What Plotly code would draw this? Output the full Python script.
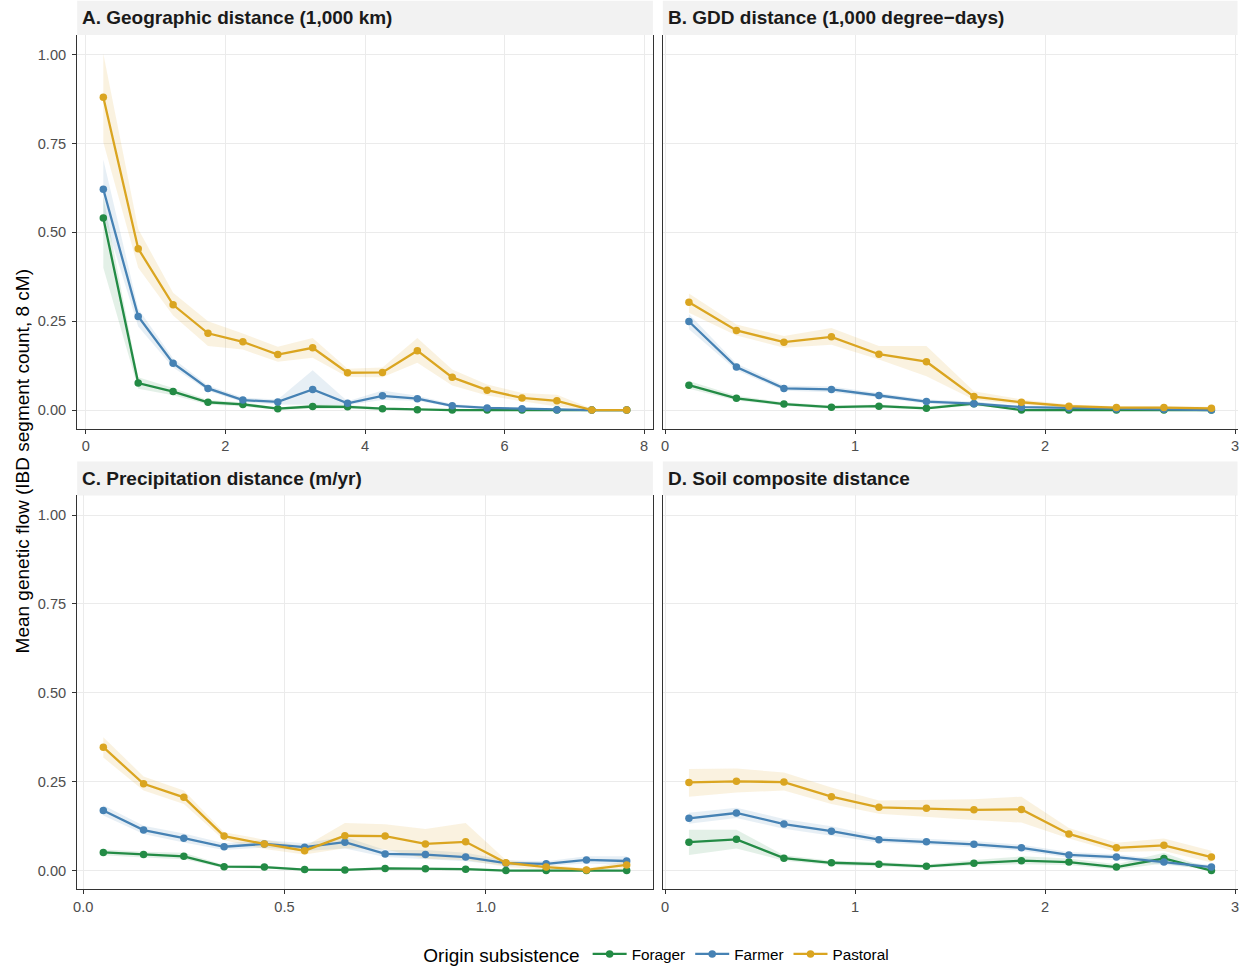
import plotly.graph_objects as go

# ---------------- data ----------------
series_names = ["Forager", "Farmer", "Pastoral"]
series_colors = ["#238B45", "#4682B4", "#DAA520"]
ribbon_colors = ["rgba(35,139,69,0.13)", "rgba(70,130,180,0.13)", "rgba(218,165,32,0.14)"]

panel_titles = ["A. Geographic distance (1,000 km)", "B. GDD distance (1,000 degree\u2212days)",
                "C. Precipitation distance (m/yr)", "D. Soil composite distance"]

y_tickvals = [0, 0.25, 0.5, 0.75, 1.0]
y_ticktext = ["0.00", "0.25", "0.50", "0.75", "1.00"]
y_title = "Mean genetic flow (IBD segment count, 8 cM)"
legend_title = "Origin subsistence"

# Panel A
A_x = [0.25, 0.75, 1.25, 1.75, 2.25, 2.75, 3.25, 3.75, 4.25, 4.75, 5.25, 5.75, 6.25, 6.75, 7.25, 7.75]
A_forager = [0.540, 0.076, 0.052, 0.022, 0.016, 0.004, 0.010, 0.009, 0.004, 0.001, 0, 0, 0, 0, 0, 0]
A_forager_lo = [0.40, 0.060, 0.042, 0.016, 0.010, 0.001, 0.004, 0.004, 0.001, 0, 0, 0, 0, 0, 0, 0]
A_forager_hi = [0.60, 0.092, 0.062, 0.028, 0.022, 0.007, 0.016, 0.014, 0.007, 0.002, 0.001, 0, 0, 0, 0, 0]
A_farmer = [0.621, 0.263, 0.132, 0.061, 0.028, 0.023, 0.058, 0.019, 0.040, 0.032, 0.012, 0.006, 0.004, 0.001, 0.0, 0.0]
A_farmer_lo = [0.55, 0.235, 0.120, 0.054, 0.022, 0.016, 0.015, 0.014, 0.028, 0.026, 0.008, 0.003, 0.002, 0, 0, 0]
A_farmer_hi = [0.705, 0.285, 0.145, 0.069, 0.035, 0.030, 0.112, 0.025, 0.055, 0.040, 0.017, 0.010, 0.007, 0.003, 0.001, 0.001]
A_pastoral = [0.880, 0.454, 0.296, 0.216, 0.192, 0.156, 0.175, 0.105, 0.106, 0.167, 0.092, 0.056, 0.034, 0.026, 0.0, 0.0]
A_pastoral_lo = [0.753, 0.400, 0.266, 0.180, 0.170, 0.136, 0.147, 0.093, 0.092, 0.133, 0.069, 0.041, 0.025, 0.010, 0.0, 0.0]
A_pastoral_hi = [1.002, 0.509, 0.330, 0.250, 0.215, 0.178, 0.203, 0.116, 0.120, 0.203, 0.114, 0.072, 0.048, 0.043, 0.004, 0.001]

# Panel B
B_x = [0.125, 0.375, 0.625, 0.875, 1.125, 1.375, 1.625, 1.875, 2.125, 2.375, 2.625, 2.875]
B_forager = [0.070, 0.033, 0.017, 0.008, 0.011, 0.005, 0.018, 0.0, 0.0, 0.0, 0.0, 0.0]
B_forager_lo = [0.060, 0.027, 0.012, 0.004, 0.006, 0.002, 0.012, 0, 0, 0, 0, 0]
B_forager_hi = [0.082, 0.040, 0.022, 0.013, 0.016, 0.009, 0.025, 0.002, 0.002, 0.002, 0.002, 0.001]
B_farmer = [0.249, 0.121, 0.061, 0.058, 0.041, 0.024, 0.018, 0.008, 0.006, 0.003, 0.002, 0.0]
B_farmer_lo = [0.227, 0.112, 0.054, 0.050, 0.035, 0.018, 0.013, 0.005, 0.003, 0.001, 0.0, 0.0]
B_farmer_hi = [0.270, 0.131, 0.069, 0.066, 0.048, 0.030, 0.024, 0.012, 0.009, 0.005, 0.004, 0.002]
B_pastoral = [0.303, 0.224, 0.191, 0.206, 0.157, 0.136, 0.038, 0.022, 0.011, 0.007, 0.007, 0.005]
B_pastoral_lo = [0.274, 0.210, 0.175, 0.184, 0.142, 0.095, 0.029, 0.015, 0.007, 0.004, 0.004, 0.002]
B_pastoral_hi = [0.328, 0.241, 0.208, 0.231, 0.180, 0.180, 0.053, 0.030, 0.016, 0.011, 0.011, 0.009]

# Panel C
C_x = [0.05, 0.15, 0.25, 0.35, 0.45, 0.55, 0.65, 0.75, 0.85, 0.95, 1.05, 1.15, 1.25, 1.35]
C_forager = [0.051, 0.045, 0.040, 0.011, 0.010, 0.003, 0.002, 0.006, 0.005, 0.004, 0.0, 0.0, 0.0, 0.0]
C_forager_lo = [0.043, 0.037, 0.032, 0.007, 0.006, 0.001, 0.0, 0.003, 0.002, 0.002, 0, 0, 0, 0]
C_forager_hi = [0.059, 0.053, 0.050, 0.016, 0.014, 0.006, 0.005, 0.010, 0.008, 0.007, 0.002, 0.001, 0.001, 0.001]
C_farmer = [0.169, 0.114, 0.091, 0.067, 0.075, 0.066, 0.080, 0.047, 0.045, 0.038, 0.021, 0.019, 0.030, 0.027]
C_farmer_lo = [0.155, 0.103, 0.079, 0.058, 0.065, 0.055, 0.062, 0.038, 0.033, 0.026, 0.014, 0.013, 0.020, 0.016]
C_farmer_hi = [0.184, 0.126, 0.104, 0.077, 0.086, 0.077, 0.095, 0.058, 0.058, 0.050, 0.029, 0.026, 0.040, 0.040]
C_pastoral = [0.347, 0.244, 0.206, 0.097, 0.075, 0.056, 0.098, 0.097, 0.075, 0.081, 0.022, 0.010, 0.002, 0.016]
C_pastoral_lo = [0.318, 0.225, 0.187, 0.085, 0.061, 0.045, 0.063, 0.060, 0.033, 0.030, 0.010, 0.003, 0.0, 0.005]
C_pastoral_hi = [0.375, 0.265, 0.225, 0.108, 0.087, 0.068, 0.134, 0.130, 0.117, 0.134, 0.030, 0.018, 0.006, 0.027]

# Panel D
D_x = [0.125, 0.375, 0.625, 0.875, 1.125, 1.375, 1.625, 1.875, 2.125, 2.375, 2.625, 2.875]
D_forager = [0.080, 0.088, 0.035, 0.022, 0.018, 0.012, 0.021, 0.028, 0.024, 0.010, 0.034, 0.0]
D_forager_lo = [0.044, 0.062, 0.028, 0.016, 0.012, 0.007, 0.014, 0.018, 0.016, 0.003, 0.020, 0.0]
D_forager_hi = [0.115, 0.115, 0.043, 0.028, 0.024, 0.017, 0.030, 0.040, 0.034, 0.018, 0.050, 0.004]
D_farmer = [0.147, 0.162, 0.131, 0.111, 0.087, 0.081, 0.074, 0.064, 0.044, 0.038, 0.024, 0.010]
D_farmer_lo = [0.132, 0.148, 0.118, 0.098, 0.079, 0.073, 0.066, 0.056, 0.036, 0.030, 0.016, 0.005]
D_farmer_hi = [0.163, 0.177, 0.145, 0.125, 0.096, 0.090, 0.083, 0.073, 0.052, 0.046, 0.032, 0.016]
D_pastoral = [0.248, 0.251, 0.249, 0.208, 0.178, 0.175, 0.171, 0.172, 0.103, 0.064, 0.071, 0.038]
D_pastoral_lo = [0.208, 0.220, 0.225, 0.187, 0.160, 0.150, 0.142, 0.135, 0.090, 0.052, 0.055, 0.023]
D_pastoral_hi = [0.286, 0.287, 0.276, 0.234, 0.197, 0.200, 0.201, 0.208, 0.120, 0.078, 0.090, 0.056]

panels = [
    (A_x, [(A_forager, A_forager_lo, A_forager_hi), (A_farmer, A_farmer_lo, A_farmer_hi), (A_pastoral, A_pastoral_lo, A_pastoral_hi)]),
    (B_x, [(B_forager, B_forager_lo, B_forager_hi), (B_farmer, B_farmer_lo, B_farmer_hi), (B_pastoral, B_pastoral_lo, B_pastoral_hi)]),
    (C_x, [(C_forager, C_forager_lo, C_forager_hi), (C_farmer, C_farmer_lo, C_farmer_hi), (C_pastoral, C_pastoral_lo, C_pastoral_hi)]),
    (D_x, [(D_forager, D_forager_lo, D_forager_hi), (D_farmer, D_farmer_lo, D_farmer_hi), (D_pastoral, D_pastoral_lo, D_pastoral_hi)]),
]

# ---------------- layout geometry (pixels) ----------------
W, H = 1248, 973
FONT = "Liberation Sans, Arial, sans-serif"
px_x = lambda p: p / W
px_y = lambda p: 1 - p / H

left_dom = [px_x(73.5), px_x(652)]
right_dom = [px_x(662), px_x(1239.5)]
top_dom = [px_y(429), px_y(35)]
bot_dom = [px_y(890), px_y(496)]
x_doms = [left_dom, right_dom, left_dom, right_dom]
y_doms = [top_dom, top_dom, bot_dom, bot_dom]
x_ranges = [[-0.125, 8.125], [-0.0125, 3.0125], [-0.015, 1.415], [-0.0125, 3.0125]]
x_tickvals = [[0, 2, 4, 6, 8], [0, 1, 2, 3], [0, 0.5, 1.0], [0, 1, 2, 3]]
x_ticktext = [["0", "2", "4", "6", "8"], ["0", "1", "2", "3"], ["0.0", "0.5", "1.0"], ["0", "1", "2", "3"]]
strip_y = [(0.7, 35), (0.7, 35), (462, 496), (462, 496)]
strip_x = [(73.5, 652), (662, 1239.5), (73.5, 652), (662, 1239.5)]

fig = go.Figure()

for pi, (xs, ser) in enumerate(panels):
    sfx = "" if pi == 0 else str(pi + 1)
    xa, ya = "x" + sfx, "y" + sfx
    # ribbons
    for si, (m, lo, hi) in enumerate(ser):
        fig.add_trace(go.Scatter(
            x=list(xs) + list(xs)[::-1], y=list(hi) + list(lo)[::-1],
            fill="toself", fillcolor=ribbon_colors[si], line=dict(width=0),
            mode="lines", hoverinfo="skip", showlegend=False, xaxis=xa, yaxis=ya))
    # lines + points
    for si, (m, lo, hi) in enumerate(ser):
        fig.add_trace(go.Scatter(
            x=xs, y=m, mode="lines+markers", name=series_names[si],
            legendgroup=series_names[si], showlegend=(pi == 0),
            line=dict(color=series_colors[si], width=2.3),
            marker=dict(color=series_colors[si], size=7.5),
            xaxis=xa, yaxis=ya))

layout = dict(
    width=W, height=H, margin=dict(l=0, r=0, t=0, b=0),
    paper_bgcolor="white", plot_bgcolor="white",
    font=dict(family=FONT, color="#000000"),
    showlegend=True,
    legend=dict(orientation="h", x=px_x(657), xanchor="center", y=px_y(956), yanchor="middle",
                title=dict(text=legend_title, font=dict(size=19, family=FONT, color="#000")),
                font=dict(size=15.3, family=FONT, color="#000"), itemwidth=34,
                bgcolor="rgba(0,0,0,0)"),
)

shapes = []
annotations = []
for pi in range(4):
    sfx = "" if pi == 0 else str(pi + 1)
    show_y = pi in (0, 2)
    layout["xaxis" + sfx] = dict(
        domain=x_doms[pi], range=x_ranges[pi], anchor="y" + sfx,
        tickvals=x_tickvals[pi], ticktext=x_ticktext[pi],
        showgrid=True, gridcolor="#EBEBEB", gridwidth=1.3, zeroline=False,
        showline=True, linecolor="#333333", linewidth=1.2,
        ticks="outside", ticklen=4, tickcolor="#333333", tickwidth=1.1,
        tickfont=dict(size=14.6, color="#4D4D4D", family=FONT), fixedrange=True)
    layout["yaxis" + sfx] = dict(
        domain=y_doms[pi], range=[-0.052, 1.055], anchor="x" + sfx,
        tickvals=y_tickvals, ticktext=y_ticktext, showticklabels=show_y,
        showgrid=True, gridcolor="#EBEBEB", gridwidth=1.3, zeroline=False,
        showline=True, linecolor="#333333", linewidth=1.2,
        mirror=show_y, ticklabelstandoff=3,
        ticks="outside" if show_y else "", ticklen=4, tickcolor="#333333", tickwidth=1.1,
        tickfont=dict(size=14.6, color="#4D4D4D", family=FONT), fixedrange=True)
    # strip
    x0, x1 = strip_x[pi]
    y0, y1 = strip_y[pi]
    shapes.append(dict(type="rect", xref="paper", yref="paper",
                       x0=px_x(x0), x1=px_x(x1), y0=px_y(y1), y1=px_y(y0),
                       fillcolor="#F2F2F2", line=dict(width=0), layer="below"))
    annotations.append(dict(text="<b>" + panel_titles[pi] + "</b>", xref="paper", yref="paper",
                            x=px_x(x0 + 3), xanchor="left", y=px_y((y0 + y1) / 2), yanchor="middle",
                            showarrow=False, font=dict(size=19, family=FONT, color="#1A1A1A")))

annotations.append(dict(text=y_title, xref="paper", yref="paper", x=px_x(19), y=px_y(462),
                        xanchor="center", yanchor="middle", textangle=-90, showarrow=False,
                        font=dict(size=19, family=FONT, color="#000")))

layout["shapes"] = shapes
layout["annotations"] = annotations
fig.update_layout(**layout)

fig.write_html("out.html")
